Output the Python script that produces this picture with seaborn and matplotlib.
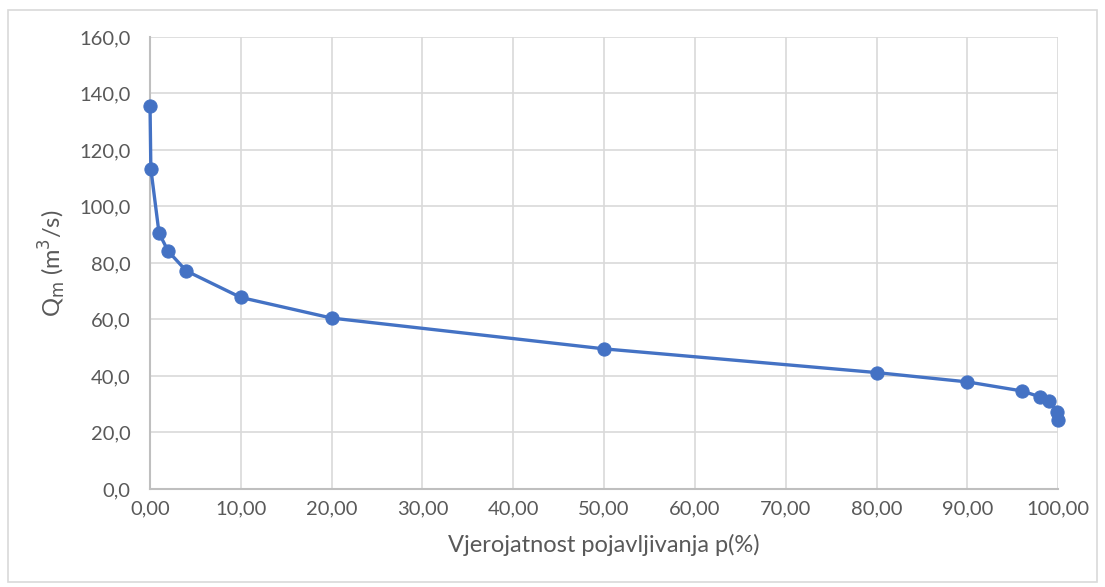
import numpy as np
import pandas as pd
import matplotlib
matplotlib.use('Agg')
import matplotlib.pyplot as plt
import seaborn as sns
from matplotlib.ticker import FuncFormatter
from matplotlib.patches import Rectangle

# data
probability = [0.01, 0.1, 1, 2, 4, 10, 20, 50, 80, 90, 96, 98, 99, 99.9, 99.99]
discharge = [135.6, 113.3, 90.6, 84.2, 77.2, 67.8, 60.5, 49.6, 41.2, 37.9, 34.7, 32.6, 31.0, 27.3, 24.4]

x_ticks = np.arange(0, 101, 10)
y_ticks = np.arange(0, 161, 20)

df = pd.DataFrame({'p': probability, 'Q': discharge})

sns.set_style('white')
plt.rcParams['font.family'] = ['Lato', 'DejaVu Sans']

fig = plt.figure(figsize=(11.05, 5.87), dpi=100)
ax = fig.add_axes([0.1357, 0.167, 0.822, 0.770])

# outer chart border
fig.patches.append(Rectangle((0.007, 0.008), 0.986, 0.975, transform=fig.transFigure,
                             fill=False, edgecolor='#d9d9d9', linewidth=1.2))

sns.lineplot(data=df, x='p', y='Q', ax=ax, color='#4472c4', linewidth=2.4,
             marker='o', markersize=9.5, markeredgecolor='#4472c4', sort=False,
             clip_on=False, zorder=4)

ax.set_xlim(0, 100)
ax.set_ylim(0, 160)
ax.set_xticks(x_ticks)
ax.set_yticks(y_ticks)
ax.xaxis.set_major_formatter(FuncFormatter(lambda v, pos: f'{v:.2f}'.replace('.', ',')))
ax.yaxis.set_major_formatter(FuncFormatter(lambda v, pos: f'{v:.1f}'.replace('.', ',')))
ax.grid(True, color='#d9d9d9', linewidth=1.2)
ax.set_axisbelow(True)
for s in ['top', 'right']:
    ax.spines[s].set_visible(False)
ax.spines['left'].set_color('#bfbfbf')
ax.spines['bottom'].set_color('#bfbfbf')
ax.spines['left'].set_linewidth(1.5)
ax.spines['bottom'].set_linewidth(1.5)
ax.tick_params(axis='x', length=0, labelsize=14.5, labelcolor='#595959', pad=8)
ax.tick_params(axis='y', length=0, labelsize=14.5, labelcolor='#595959', pad=14)

ax.set_xlabel('Vjerojatnost pojavljivanja p(%)', fontsize=17, color='#595959', labelpad=12)
ax.set_ylabel('Q$_{\\mathrm{m}}$ (m$^{3}$/s)', fontsize=17, color='#595959', labelpad=8)

fig.savefig('out.png', dpi=100)
